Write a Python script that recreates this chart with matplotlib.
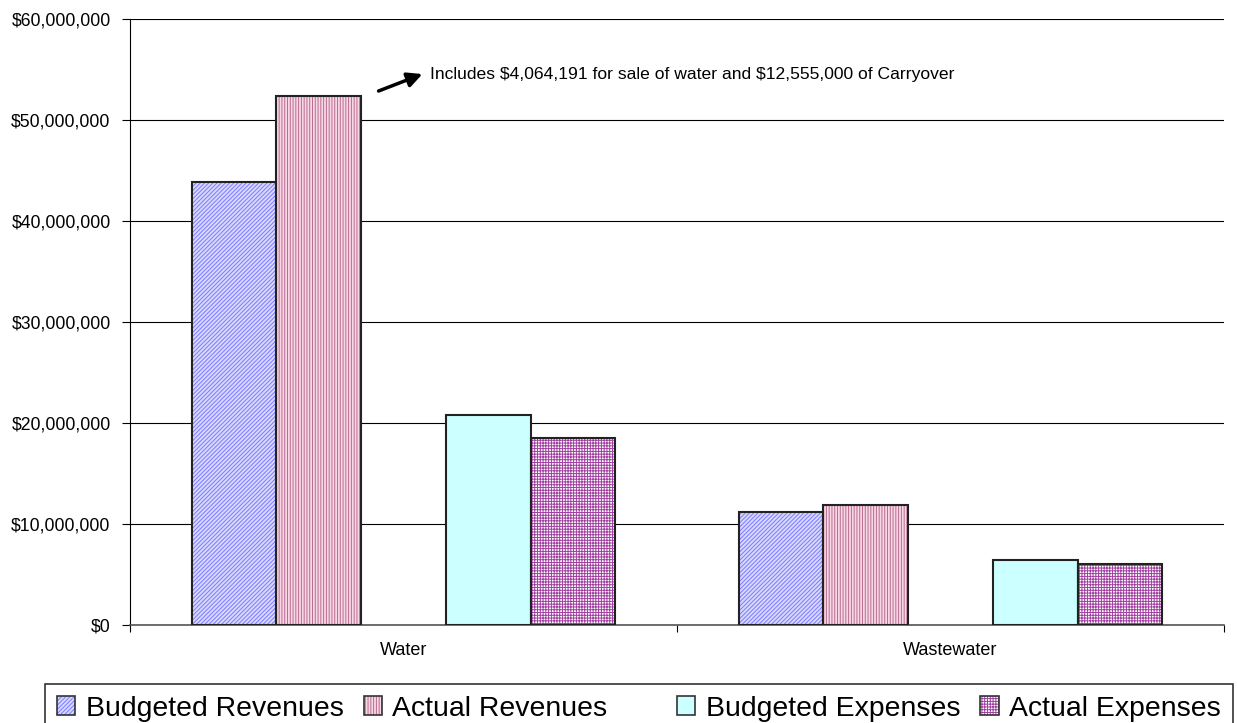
import matplotlib
matplotlib.use("Agg")
import matplotlib.pyplot as plt
from matplotlib.patches import Patch
from matplotlib.legend_handler import HandlerTuple
from matplotlib.ticker import FuncFormatter, FixedLocator
import numpy as np

categories = ["Water", "Wastewater"]
series_names = ["Budgeted Revenues", "Actual Revenues", "", "Budgeted Expenses", "Actual Expenses"]
budgeted_revenues = [43860000, 11190000]
actual_revenues = [52380000, 11880000]
budgeted_expenses = [20790000, 6440000]
actual_expenses = [18510000, 6040000]
annotation = "Includes \\$4,064,191 for sale of water and \\$12,555,000 of Carryover"

plt.rcParams['font.family'] = ['Liberation Sans', 'DejaVu Sans']
plt.rcParams['hatch.linewidth'] = 0.7

fig = plt.figure(figsize=(12.38, 7.23), dpi=100)
ax = fig.add_axes([130/1238, 1-625/723, 1094/1238, 606/723])

styles = [
    dict(face="#d8d8ff", hatch="////////", hcolor="#7a7aff"),
    dict(face="#f8d8e6", hatch="||||||", hcolor="#b86a8e"),
    None,
    dict(face="#ccffff", hatch=None, hcolor=None),
    dict(face="#ffffff", hatch="++++++", hcolor="#a040a0"),
]
data = [budgeted_revenues, actual_revenues, None, budgeted_expenses, actual_expenses]

width = 0.155
centers = np.array([0.5, 1.5])
for i, (vals, st) in enumerate(zip(data, styles)):
    if vals is None:
        continue
    x = centers + (i - 2) * width
    ax.bar(x, vals, width=width, color=st["face"], edgecolor="none", zorder=3)
    if st["hatch"]:
        ax.bar(x, vals, width=width, color="none", edgecolor=st["hcolor"],
               hatch=st["hatch"], linewidth=0, zorder=4)
    ax.bar(x, vals, width=width, color="none", edgecolor="#222222", linewidth=1.5, zorder=5)

ax.set_xlim(0, 2)
ax.set_ylim(0, 60000000)
ax.set_yticks(np.arange(0, 60000001, 10000000))
ax.yaxis.set_major_formatter(FuncFormatter(lambda v, p: "${:,.0f}".format(v)))
ax.grid(axis='y', color='black', linewidth=0.8, zorder=1)
ax.xaxis.set_major_locator(FixedLocator([0, 1, 2]))
ax.set_xticklabels([])
ax.set_xticks(centers, categories, minor=True)
ax.tick_params(axis='x', which='major', direction='out', length=5, width=0.8)
ax.tick_params(axis='x', which='minor', length=0, pad=12, labelsize=13)
ax.tick_params(axis='y', direction='out', length=6, width=0.8, labelsize=12.7, pad=8)
for s in ["top", "right"]:
    ax.spines[s].set_visible(False)
ax.spines["left"].set_linewidth(0.8)
ax.spines["bottom"].set_linewidth(1.2)
ax.spines["bottom"].set_color("#555555")

ax.text(0.5484, 54550000, annotation, fontsize=12.6, va='center', ha='left')
ax.annotate("", xy=(0.5393, 54650000), xytext=(0.4497, 52770000),
            arrowprops=dict(arrowstyle="-|>", color="black", lw=2.5, mutation_scale=22))

handles = []
labels = []
for st, name in zip(styles, series_names):
    if st is None:
        handles.append(Patch(facecolor="none", edgecolor="none"))
    else:
        parts = [Patch(facecolor=st["face"], edgecolor="none")]
        if st["hatch"]:
            parts.append(Patch(facecolor="none", edgecolor=st["hcolor"], hatch=st["hatch"],
                               linewidth=0))
        parts.append(Patch(facecolor="none", edgecolor="#333333", linewidth=1.2))
        handles.append(tuple(parts))
    labels.append(name)
leg = fig.legend(handles, labels, loc='upper left', bbox_to_anchor=(45/1238, 1-684/723),
                 ncol=5, fontsize=20.4, frameon=True, fancybox=False, edgecolor='black',
                 handlelength=0.65, handleheight=0.65, handletextpad=0.36, columnspacing=0.72,
                 borderpad=0.42, borderaxespad=0,
                 handler_map={tuple: HandlerTuple(ndivide=1, pad=0)})
leg.get_frame().set_linewidth(1.2)

fig.savefig("out.png", dpi=100)
